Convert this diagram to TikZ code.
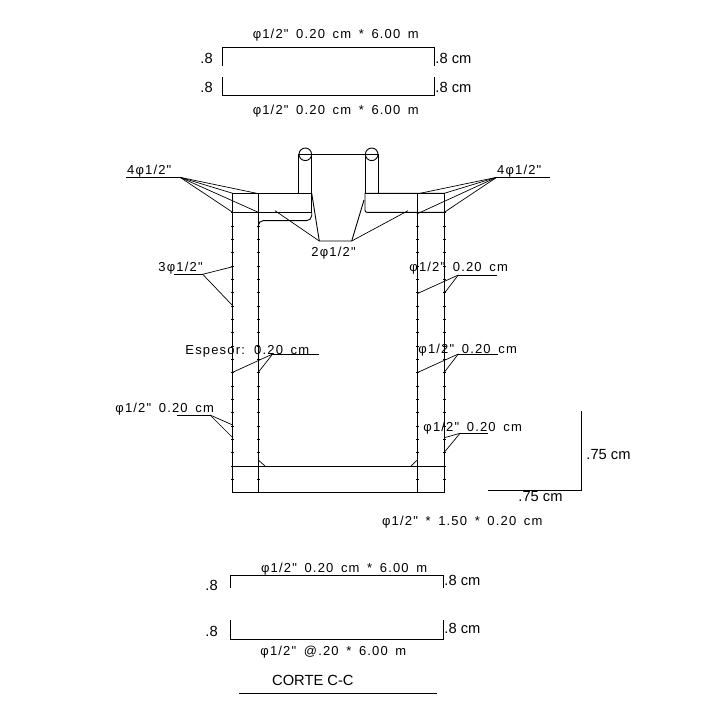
\documentclass[tikz,border=0pt]{standalone}
\usepackage{fontspec}
\setmainfont{Liberation Sans}
\newfontfamily\cadfont[LetterSpace=9,WordSpace=1.6]{Liberation Sans}
\tikzset{
 cadtext/.style={anchor=west,inner sep=0pt,text height=10pt,text depth=0pt,font=\cadfont\fontsize{13}{13}\selectfont},
 dimtext/.style={anchor=west,inner sep=0pt,text height=10.5pt,text depth=0pt,font=\fontsize{14.7}{15}\selectfont},
 bar/.style={line width=0.9pt},
 leader/.style={line width=0.7pt},
}
\begin{document}
\begin{tikzpicture}[x=1pt,y=-1pt,line width=0.9pt]
 \useasboundingbox (0,0) rectangle (720,718);
 % top bars
 \draw[bar](222.3,65.7)--(222.3,47.3)--(434.3,47.3)--(434.3,65.7);
 \draw[bar](222.3,77.3)--(222.3,95.3)--(434.3,95.3)--(434.3,77.3);
 \node[cadtext] (barA) at (252.3,33.3) {φ1/2" 0.20 cm * 6.00 m};
 \node[cadtext] (barB) at (252.3,109.3) {φ1/2" 0.20 cm * 6.00 m};
 \node[dimtext] (hookA) at (200,58.3) {.8};
 \node[dimtext] (hookB) at (200,87.7) {.8};
 \node[dimtext] (hookC) at (435,58.3) {.8 cm};
 \node[dimtext] (hookD) at (435,87.7) {.8 cm};
 % section: walls and slab
 \draw[bar](232.7,193.3)--(232.7,492.3)--(444.3,492.3)--(444.3,193.3);
 \draw[bar](258.3,193.3)--(258.3,492.3);
 \draw[bar](417.3,193.3)--(417.3,492.3);
 \draw[bar](232.7,466)--(444.3,466);
 \draw[bar](232.7,193.3)--(311.7,193.3)--(311.7,212.3)--(232.7,212.3);
 \draw[bar](444.3,193.3)--(365,193.3)[rounded corners=2pt]--(365,212.3)--(444.3,212.3);
 \draw[bar,rounded corners=5pt](258.3,228)--(258.3,220.6)--(311.7,220.6)--(311.7,212.3);
 \draw[bar,rounded corners=3pt](417.3,212.3)--(417.3,220);
 % top stubs and hooks
 \draw[bar](298.7,193.3)--(298.7,154.3)--(378.3,154.3)--(378.3,193.3);
 \draw[bar](311.7,193.3)--(311.7,154.3);
 \draw[bar](365,193.3)--(365,154.3);
 \draw[bar](305.3,154.3) circle (6.3);
 \draw[bar](371.7,154.3) circle (6.3);
 % chamfers at the floor
 \draw[leader](258.3,460)--(265,466);
 \draw[leader](417.3,460)--(411,466);
 % stirrup marks along the walls
 \foreach \wallx in {232.7,258.3,417.3,444.3}
  \foreach \k in {0,...,20}
   \draw[leader](\wallx-1.5,212.7+13.33*\k)--(\wallx+1.5,212.7+13.33*\k);
 % labels with leaders
 \coordinate (fanA) at (180,177.3);
 \draw[leader](126,177.3)--(fanA);
 \foreach \p in {(256.7,193.3),(232.7,193.3),(258.3,212.3),(232.7,212.3)}
  \draw[leader](fanA)--\p;
 \node[cadtext] (lblA) at (126.7,169.3) {4φ1/2"};
 \coordinate (fanB) at (496.7,177.3);
 \draw[leader](550,177.3)--(fanB);
 \foreach \p in {(420,193.3),(444.3,193.3),(416.7,214),(444.3,212.3)}
  \draw[leader](fanB)--\p;
 \node[cadtext] (lblB) at (496.7,169.3) {4φ1/2"};
 \coordinate (cL) at (319.3,241);
 \coordinate (cR) at (351.7,241);
 \draw[bar](311.7,193.3)--(cL)--(cR)--(364,200);
 \draw[leader](cL)--(275,210.7);
 \draw[leader](cR)--(408,210.7);
 \node[cadtext] (lblC) at (311,251.7) {2φ1/2"};
 \coordinate (fanD) at (202.7,274.3);
 \draw[leader](174,274.3)--(fanD);
 \draw[leader](fanD)--(232.7,266.7);
 \draw[leader](fanD)--(232.7,305.7);
 \node[cadtext] (lblD) at (158,266) {3φ1/2"};
 \coordinate (fanE) at (458.3,275);
 \draw[leader](497.3,275)--(fanE);
 \draw[leader](fanE)--(418,293.3);
 \draw[leader](fanE)--(444.3,293.3);
 \node[cadtext] (lblE) at (409,266) {φ1/2" 0.20 cm};
 \coordinate (fanF) at (272.7,354);
 \draw[leader](319,354)--(fanF);
 \draw[leader](fanF)--(232.7,372.3);
 \draw[leader](fanF)--(258.3,372.3);
 \node[cadtext] (lblF) at (185,349.3) {Espesor: 0.20 cm};
 \coordinate (fanG) at (210,415);
 \draw[leader](177.3,415)--(fanG);
 \draw[leader](fanG)--(232.7,425);
 \draw[leader](fanG)--(232.7,437.7);
 \node[cadtext] (lblG) at (115,407) {φ1/2" 0.20 cm};
 \coordinate (fanH) at (458.3,354);
 \draw[leader](497.7,354)--(fanH);
 \draw[leader](fanH)--(418,372.3);
 \draw[leader](fanH)--(444.3,372.3);
 \node[cadtext] (lblH) at (418,348.7) {φ1/2" 0.20 cm};
 \coordinate (fanI) at (460,433.3);
 \draw[leader](487.7,433.3)--(fanI);
 \draw[leader](fanI)--(444.3,437.7);
 \draw[leader](fanI)--(444.3,452.3);
 \node[cadtext] (lblI) at (423,426.7) {φ1/2" 0.20 cm};
 % hook detail
 \draw[bar](581.3,411)--(581.3,490)--(488.3,490);
 \node[dimtext] (detV) at (586,454) {.75 cm};
 \node[dimtext] (detH) at (518,496.7) {.75 cm};
 \node[cadtext] (detT) at (381.7,520.7) {φ1/2" * 1.50 * 0.20 cm};
 % bottom bars
 \draw[bar](230.3,587.7)--(230.3,575.3)--(443.3,575.3)--(443.3,587.7);
 \draw[bar](230.3,620)--(230.3,639.3)--(443.3,639.3)--(443.3,620);
 \node[cadtext] (barC) at (260.7,567.3) {φ1/2" 0.20 cm * 6.00 m};
 \node[cadtext] (barD) at (260,650) {φ1/2" @.20 * 6.00 m};
 \node[dimtext] (hookE) at (205,585) {.8};
 \node[dimtext] (hookF) at (205,631) {.8};
 \node[dimtext] (hookG) at (444,580) {.8 cm};
 \node[dimtext] (hookH) at (444,628.3) {.8 cm};
 % title
 \node[dimtext] (title) at (271.7,680.7) {CORTE C-C};
 \draw[bar](239.3,693.3)--(436.7,693.3);
\end{tikzpicture}
\end{document}
